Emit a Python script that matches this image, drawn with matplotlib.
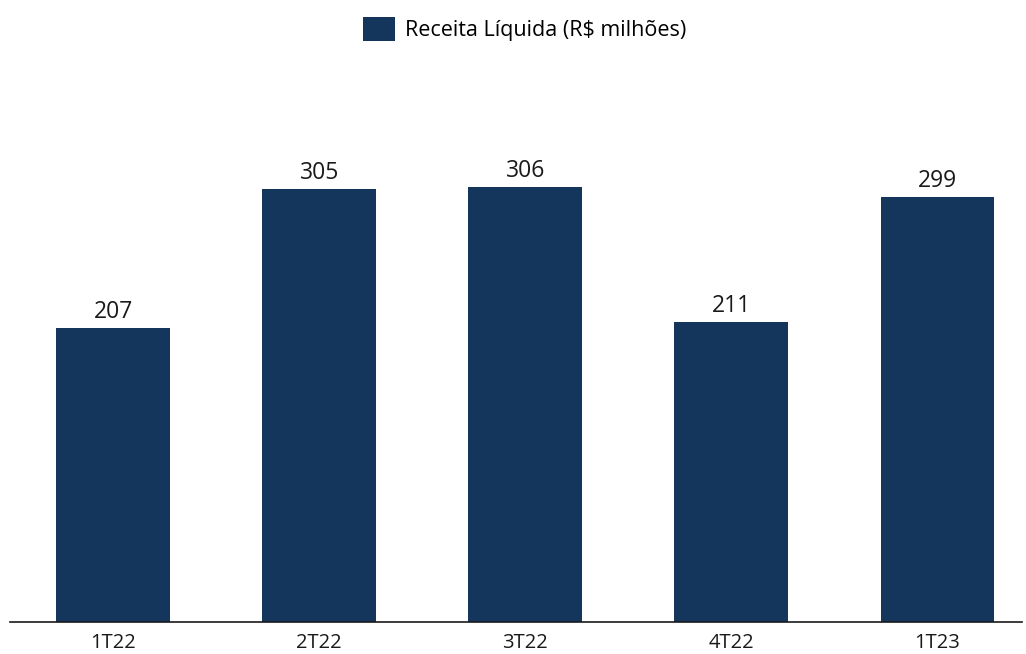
import matplotlib.pyplot as plt
import numpy as np

categories = ['1T22', '2T22', '3T22', '4T22', '1T23']
receita = [207, 305, 306, 211, 299]
series_name = 'Receita Líquida (R$ milhões)'

plt.rcParams['font.family'] = ['Open Sans', 'DejaVu Sans']
color = '#14365d'

fig = plt.figure(figsize=[10.26, 6.54], dpi=100)
ax = fig.add_axes([10/1026, 32/654, 1012/1026, 560/654])
x = np.arange(len(categories))
bars = ax.bar(x, receita, width=0.553, color=color, label=series_name)
for b, v in zip(bars, receita):
    ax.text(b.get_x() + b.get_width()/2, v + 3, str(v), ha='center', va='bottom',
            fontsize=16.5, color='#1a1a1a')

ax.set_xlim(-0.5, 4.41)
ax.set_ylim(0, 560/1.42)
ax.set_xticks(x)
ax.set_xticklabels(categories, fontsize=14.5, color='#1a1a1a')
ax.tick_params(axis='x', length=0, pad=8)
ax.set_yticks([])
for s in ['top', 'right', 'left']:
    ax.spines[s].set_visible(False)
ax.spines['bottom'].set_color('#1a1a1a')
ax.spines['bottom'].set_linewidth(1.2)

fig.legend(loc='upper center', bbox_to_anchor=(525/1026, 1 + 2/654), frameon=False,
           fontsize=15.5, handlelength=1.45, handleheight=1.3, handletextpad=0.5)

plt.savefig('out.png', dpi=100)
